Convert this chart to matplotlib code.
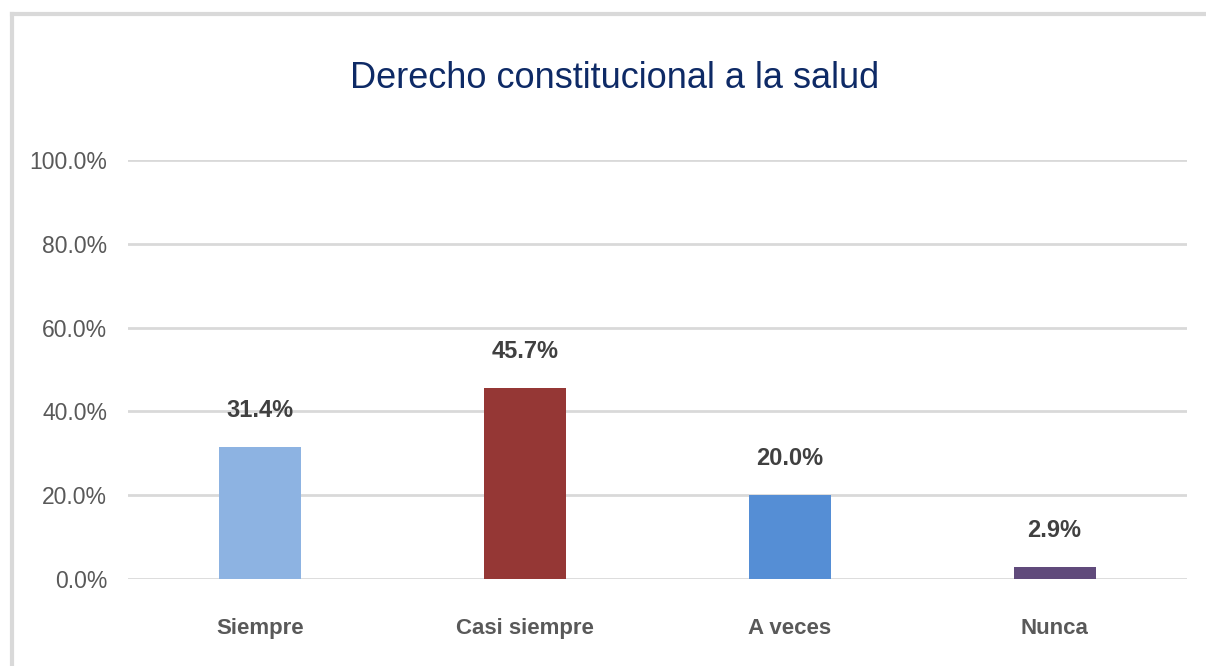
import matplotlib
matplotlib.use("Agg")
import matplotlib.pyplot as plt
from matplotlib.lines import Line2D
from matplotlib.ticker import FuncFormatter

categories = ["Siempre", "Casi siempre", "A veces", "Nunca"]
values = [31.4, 45.7, 20.0, 2.9]
bar_colors = ["#8DB3E2", "#953735", "#558ED5", "#604A7B"]
title = "Derecho constitucional a la salud"

plt.rcParams["font.family"] = ["Liberation Sans", "DejaVu Sans"]

W, H = 1206, 666
fig = plt.figure(figsize=(W / 100, H / 100), dpi=100)
ax = fig.add_axes([128 / W, 1 - 579 / H, (1187 - 128) / W, (579 - 160) / H])

x = range(len(categories))
ax.bar(x, values, width=0.31, color=bar_colors, zorder=3)
ax.set_xlim(-0.5, len(categories) - 0.5)
ax.set_ylim(0, 100)
ax.set_yticks([0, 20, 40, 60, 80, 100])
ax.yaxis.set_major_formatter(FuncFormatter(lambda v, p: f"{v:.1f}%"))
ax.grid(axis="y", color="#D9D9D9", linewidth=2, zorder=0)
ax.set_axisbelow(True)
for s in ax.spines.values():
    s.set_visible(False)
ax.tick_params(length=0)
ax.tick_params(axis="y", labelsize=16.5, labelcolor="#595959", pad=15)
ax.set_xticks(list(x))
ax.set_xticklabels(categories, fontsize=16, fontweight="bold", color="#595959")
ax.tick_params(axis="x", pad=28)

# value labels above bars
for xi, v in zip(x, values):
    ax.annotate(f"{v:.1f}%", (xi, v), xytext=(0, 18), textcoords="offset points",
                ha="center", va="bottom", fontsize=17, fontweight="bold", color="#404040")

fig.text(615 / W, 1 - 78 / H, title, ha="center", va="center", fontsize=26, color="#0E2A66")

# outer frame (left and top edges)
fig.add_artist(Line2D([11.5 / W, 11.5 / W], [0, 1 - 14 / H], transform=fig.transFigure,
                      color="#D9D9D9", linewidth=3))
fig.add_artist(Line2D([11.5 / W, 1], [1 - 14 / H, 1 - 14 / H], transform=fig.transFigure,
                      color="#D9D9D9", linewidth=3))

fig.savefig("out.png", dpi=100)
